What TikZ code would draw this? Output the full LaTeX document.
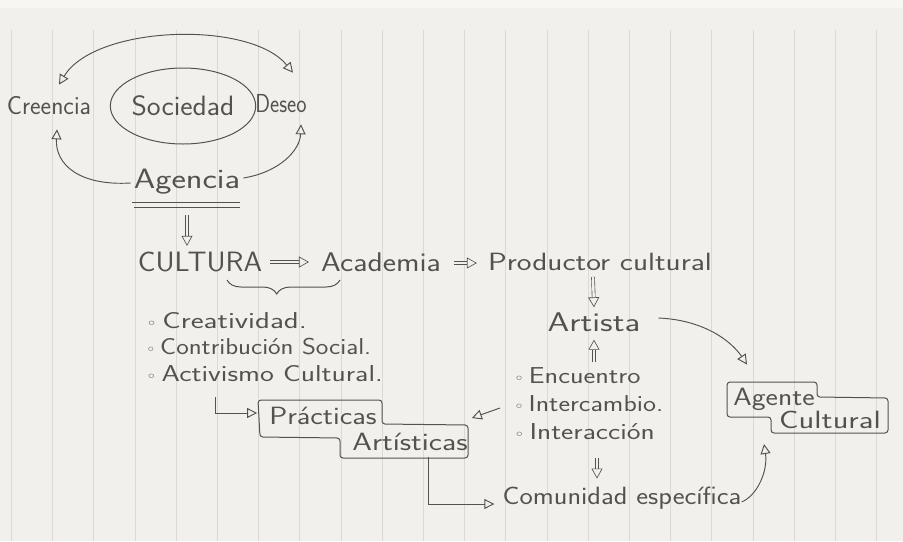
\documentclass[tikz,border=0pt]{standalone}
\usepackage{fontspec}
\usepackage{graphicx}
\newfontfamily\symfont{DejaVu Sans}
\usetikzlibrary{arrows.meta,decorations.pathreplacing,shapes.geometric,calc}
\definecolor{paper}{HTML}{F2F0EC}
\definecolor{topcol}{HTML}{F7F6F3}
\definecolor{rulecol}{HTML}{DCD9D4}
\definecolor{ink}{HTML}{55514F}
\newcommand{\bul}{{\symfont\fontsize{14}{14}\selectfont ◦}\,}
\newcommand{\hs}[2][1]{\scalebox{#1}[1]{#2}}
\newcommand{\fs}[1]{\fontsize{#1}{#1}\selectfont}
\begin{document}
\begin{tikzpicture}[x=1pt,y=-1pt,
  lbl/.style={inner sep=0pt, text=ink, font=\sffamily\fontsize{25}{28}\selectfont},
  item/.style={lbl, anchor=west, font=\sffamily\fontsize{23}{26}\selectfont},
  conn/.style={draw=ink, line width=0.95pt, -{Triangle[open,length=10pt,width=10pt]}},
  dbl/.style={draw=ink, line width=0.65pt, double=paper, double distance=2.4pt, -{Triangle[open,length=10pt,width=11pt]}},
  box/.style={draw=ink, line width=1pt, rounded corners=3pt},
  pen/.style={draw=ink, line width=1pt}]
\fill[paper] (0,0) rectangle (903,541);
\fill[topcol] (0,0) rectangle (903,8);
\foreach \k in {0,...,21} \draw[rulecol, line width=0.8pt] ({11.4+41.2*\k},30) -- ({11.4+41.2*\k},541);
\useasboundingbox (0,0) rectangle (903,541);

% nodes
\node[lbl] (creencia) at (49,106) {\fs{26}\hs[0.97]{Creencia}};
\node[lbl, draw=ink, line width=1pt, ellipse, minimum width=133pt, minimum height=76pt] (sociedad) at (183,106) {\fs{28}\hs[1.05]{Sociedad}};
\node[lbl] (deseo) at (281,104) {\fs{26}\hs[0.84]{Deseo}};
\node[lbl] (agencia) at (187,182) {\fs{28}\hs[1.23]{Agencia}};
\node[lbl] (cultura) at (200,262) {\fs{28}\hs[1.06]{CULTURA}};
\node[lbl] (academia) at (381,262) {\fs{27}\hs[1.17]{Academia}};
\node[lbl] (productor) at (600,262) {\hs[1.25]{Productor cultural}};
\node[lbl] (artista) at (594,322) {\fs{27}\hs[1.29]{Artista}};
\node[item] (creat) at (146,321) {\hs[1.34]{\bul Creatividad.}};
\node[item] (contrib) at (146,347) {\hs[1.16]{\bul Contribución Social.}};
\node[item] (activ) at (146,374) {\hs[1.28]{\bul Activismo Cultural.}};
\node[item] (encuentro) at (514,376) {\hs[1.22]{\bul Encuentro}};
\node[item] (intercambio) at (514,404) {\hs[1.2]{\bul Intercambio.}};
\node[item] (interaccion) at (514,432) {\hs[1.27]{\bul Interacción}};
\node[lbl] (comunidad) at (622,498) {\hs[1.13]{Comunidad específica}};
\node[lbl] (practicas) at (323,416) {\hs[1.2]{Prácticas}};
\node[lbl] (artisticas) at (410,442) {\hs[1.26]{Artísticas}};
\node[lbl] (agente) at (774,399) {\hs[1.18]{Agente}};
\node[lbl] (cultural) at (830,420) {\hs[1.3]{Cultural}};

% boxes
\draw[box] (258,400) -- (382,400) -- (382,424) -- (468,425) -- (468,458) -- (340,458) -- (340,438) -- (260,437) -- cycle;
\draw[box] (727,382) -- (817,382) -- (817,397) -- (888,398) -- (888,433) -- (771,433) -- (771,417) -- (727,417) -- cycle;

% underline of Agencia
\draw[pen] (132,202) -- (240,202);
\draw[pen] (134,207) -- (240,207);

% brace
\draw[pen, decorate, decoration={brace, mirror, amplitude=14pt, aspect=0.44}] (227,280) -- (340,280);

% connectors around Sociedad
\draw[conn, {Triangle[open,length=10pt,width=10pt]}-{Triangle[open,length=10pt,width=10pt]}]
  ($(creencia.north)+(10,-12)$) .. controls (95,25) and (250,20) .. ($(deseo.north)+(12,-22)$);
\draw[conn] ($(agencia.west)+(-3,1)$) .. controls (80,186) and (55,165) .. ($(creencia.south)+(8,14)$);
\draw[conn] ($(agencia.east)+(3,-4)$) .. controls (280,172) and (300,150) .. ($(deseo.south)+(20,11)$);

% double arrows
\draw[dbl] ($(agencia.south)+(0,20)$) -- ($(agencia.south |- cultura.north)+(0,-6)$);
\draw[dbl] ($(cultura.east)+(8,0)$) -- ($(academia.west)+(-12,0)$);
\draw[dbl] ($(academia.east)+(13,1)$) -- ($(productor.west)+(-11,1)$);
\draw[dbl] ($(productor.south)+(-7,6)$) -- ($(artista.north)+(0,-5)$);
\draw[dbl] ($(encuentro.north -| artista)+(0,-6)$) -- ($(artista.south)+(0,8)$);
\draw[dbl] ($(interaccion.south -| artista)+(3,18)$) -- ($(comunidad.north -| artista)+(3,-8)$);

% other connectors
\draw[conn] ($(artista.east)+(18,-4)$) .. controls (705,320) and (732,342) .. ($(agente.north)+(-27,-23)$);
\draw[conn] ($(activ.south west)+(69,15)$) |- ($(practicas.west)+(-12,-3)$);
\draw[conn] ($(intercambio.west)+(-14,4)$) -- ($(artisticas.east |- practicas)+(4,2)$);
\draw[conn] ($(artisticas.south)+(18,6)$) |- ($(comunidad.west)+(-8,6)$);
\draw[conn] ($(comunidad.east)+(0,4)$) .. controls (758,495) and (768,470) .. ($(cultural.south west)+(-15,15)$);
\end{tikzpicture}
\end{document}
